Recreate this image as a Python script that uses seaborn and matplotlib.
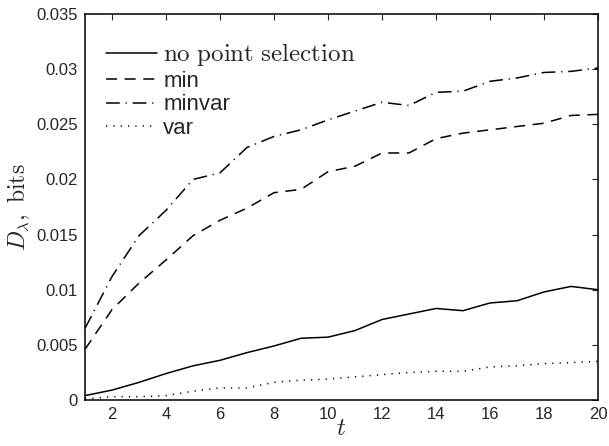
import numpy as np
import pandas as pd
import matplotlib
matplotlib.use('Agg')
import matplotlib.pyplot as plt
import seaborn as sns


t = list(range(1, 21))

# D_lambda values (bits)
no_sel = [0.0004, 0.0009, 0.0016, 0.0024, 0.0031, 0.0036, 0.0043, 0.0049, 0.0056, 0.0057,
          0.0063, 0.0073, 0.0078, 0.0083, 0.0081, 0.0088, 0.0090, 0.0098, 0.0103, 0.0100]
min_sel = [0.0046, 0.0082, 0.0106, 0.0127, 0.0149, 0.0163, 0.0174, 0.0188, 0.0191, 0.0207,
           0.0212, 0.0224, 0.0224, 0.0237, 0.0242, 0.0245, 0.0248, 0.0251, 0.0258, 0.0259]
minvar_sel = [0.0065, 0.0112, 0.0149, 0.0172, 0.0200, 0.0206, 0.0229, 0.0239, 0.0245, 0.0254,
              0.0262, 0.0270, 0.0267, 0.0279, 0.0280, 0.0289, 0.0292, 0.0297, 0.0298, 0.0301]
var_sel = [0.0001, 0.0003, 0.0003, 0.0004, 0.0008, 0.0011, 0.0011, 0.0016, 0.0018, 0.0019,
           0.0021, 0.0023, 0.0025, 0.0026, 0.0026, 0.0030, 0.0031, 0.0033, 0.0034, 0.0035]

methods = ['none', 'min', 'minvar', 'var']
legend_labels = [r'$\mathrm{no\ point\ selection}$', 'min', 'minvar', 'var']

x_ticks = list(range(2, 21, 2))
y_ticks = [0, 0.005, 0.01, 0.015, 0.02, 0.025, 0.03, 0.035]
y_ticklabels = ['0', '0.005', '0.01', '0.015', '0.02', '0.025', '0.03', '0.035']


def main():
    sns.set_style('white')
    plt.rcParams['font.family'] = ['Liberation Sans', 'DejaVu Sans']
    plt.rcParams['mathtext.fontset'] = 'cm'

    df = pd.DataFrame({
        't': t * 4,
        'D': no_sel + min_sel + minvar_sel + var_sel,
        'method': sum([[m] * len(t) for m in methods], []),
    })

    # matlab-ish line styles (units of linewidth)
    dash_map = {
        'none': '',
        'min': (7.2, 5.0),
        'minvar': (9.0, 3.8, 0.8, 3.8),
        'var': (0.8, 4.0),
    }

    fig = plt.figure(figsize=(6.09, 4.46), dpi=100)
    ax = fig.add_axes([0.1396, 0.1031, 0.8424, 0.8655])

    sns.lineplot(data=df, x='t', y='D', style='method', style_order=methods,
                 dashes=dash_map, color='k', linewidth=1.1, legend=False, ax=ax)

    ax.set_xlim(1, 20)
    ax.set_ylim(0, 0.035)
    ax.set_xticks(x_ticks)
    ax.set_yticks(y_ticks)
    ax.set_yticklabels(y_ticklabels)
    ax.tick_params(direction='in', length=4, width=0.8, top=True, right=True,
                   labelsize=12, pad=5)
    for s in ax.spines.values():
        s.set_visible(True)
        s.set_color('k')
        s.set_linewidth(1.1)

    ax.set_xlabel(r'$t$', fontsize=18, labelpad=-4)
    ax.set_ylabel(r'$D_\lambda,\ \mathrm{bits}$', fontsize=17, labelpad=3)

    leg = ax.legend(ax.lines[:4], legend_labels, loc='upper left',
                    bbox_to_anchor=(0.04, 0.93), frameon=False, fontsize=16,
                    handlelength=2.3, handletextpad=0.3, labelspacing=0.12,
                    borderaxespad=0, borderpad=0)
    leg.get_texts()[0].set_fontsize(18)

    fig.savefig('out.png', dpi=100)
    plt.close(fig)


if __name__ == '__main__':
    main()
